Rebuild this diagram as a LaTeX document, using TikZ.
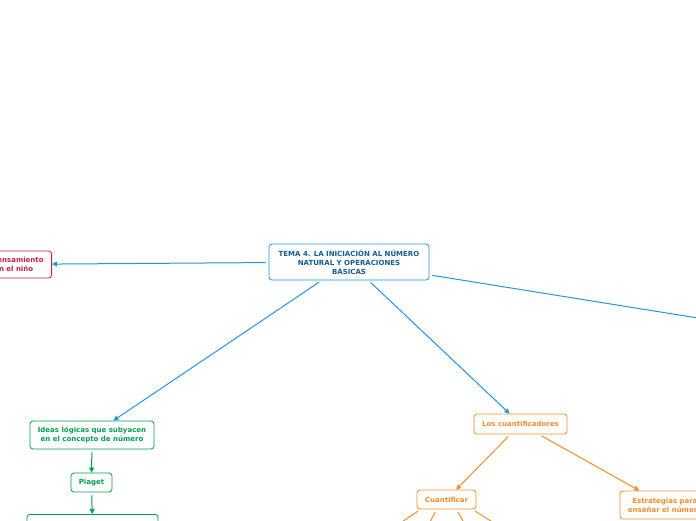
\documentclass[tikz,border=0pt]{standalone}
\usepackage{fontspec}
\setmainfont{DejaVu Sans}
\definecolor{LinkBlue}{RGB}{33,150,226}
\definecolor{TitleBlue}{RGB}{22,92,150}
\definecolor{Crimson}{RGB}{196,32,68}
\definecolor{Leaf}{RGB}{0,160,80}
\definecolor{Amber}{RGB}{245,140,40}
\usetikzlibrary{arrows.meta,positioning}

\begin{document}
\begin{tikzpicture}[x=1pt,y=-1pt,
    topic/.style={draw=#1,text=#1,fill=white,rounded corners=3pt,line width=0.8pt,
      font=\fontsize{7}{9}\selectfont\bfseries,align=center,inner sep=0pt},
    link/.style={draw=#1,line width=1pt,shorten <=3pt,-{Triangle[length=5pt,width=5pt]}},
    plain/.style={draw=#1,line width=1pt,shorten <=3pt}]
  \fill[white] (0,0) rectangle (696,520);
  \clip (0,0) rectangle (696,520);

  % central topic and first level
  \node[topic=LinkBlue,text=TitleBlue,minimum width=160pt,minimum height=36pt] (tema) at (349,262)
    {TEMA 4. LA INICIACIÓN AL NÚMERO\\NATURAL Y OPERACIONES\\BÁSICAS};
  \node[topic=Crimson,anchor=east,minimum height=27pt,inner xsep=8pt] (pensa) at (52,264.5)
    {Desarrollo del pensamiento\\matemático en el niño};
  \node[topic=Leaf,minimum width=124pt,minimum height=28pt] (ideas) at (92,435)
    {Ideas lógicas que subyacen\\en el concepto de número};
  \node[topic=Amber,minimum width=93pt,minimum height=20pt] (cuanti) at (520.5,424)
    {Los cuantificadores};
  \coordinate (otro) at (760,328);

  % second level
  \node[topic=Leaf,minimum width=41pt,minimum height=19pt] (piaget) at (91.5,482.5) {Piaget};
  \node[topic=Leaf,anchor=north,minimum width=131pt,minimum height=28pt] (etapas) at (92.5,514) {};
  \node[topic=Amber,minimum width=59pt,minimum height=19pt] (cuantif) at (446.5,499.5) {Cuantificar};
  \node[topic=Amber,minimum width=90pt,minimum height=28pt] (estrat) at (665,505)
    {Estrategias para\\enseñar el número};
  \foreach \n/\x in {c1/390,c2/426,c3/468,c4/505} \coordinate (\n) at (\x,530);

  \draw[link=LinkBlue] (tema) -- (pensa);
  \draw[plain=LinkBlue] (tema) -- (otro);
  \draw[link=LinkBlue] (tema) -- (ideas);
  \draw[link=LinkBlue] (tema) -- (cuanti);
  \draw[link=Leaf] (ideas) -- (piaget);
  \draw[link=Leaf] (piaget) -- (etapas);
  \draw[link=Amber] (cuanti) -- (cuantif);
  \draw[link=Amber] (cuanti) -- (estrat);
  \foreach \n/\s in {c1/-26,c2/-10,c3/10,c4/26}
    \draw[plain=Amber] ([xshift=\s pt]cuantif.south) -- (\n);
\end{tikzpicture}
\end{document}
